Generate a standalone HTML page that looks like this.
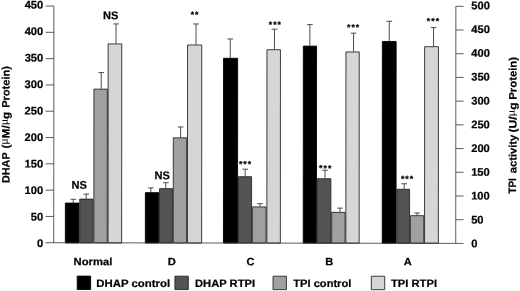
<!DOCTYPE html>
<html><head><meta charset="utf-8"><title>DHAP and TPI activity</title>
<style>html,body{margin:0;padding:0;background:#fff}svg{display:block;will-change:transform;filter:grayscale(1)}text{font-family:"Liberation Sans", sans-serif;font-weight:bold;font-size:10.7px;fill:#000;stroke:#000;stroke-width:0.22px;text-rendering:geometricPrecision}</style>
</head><body>
<svg width="520" height="291" viewBox="0 0 520 291">
<rect width="520" height="291" fill="#fff"/>
<defs><filter id="soft" x="0" y="0" width="520" height="291" filterUnits="userSpaceOnUse"><feGaussianBlur stdDeviation="0.3"/></filter></defs>
<g filter="url(#soft)"><g transform="rotate(0.03 260 145)">
<path d="M73.3 202.8V199.4M70.5 199.4H76.1" stroke="#383838" stroke-width="0.9" fill="none"/>
<rect x="65.4" y="203.2" width="13.6" height="39.9" fill="#000000" stroke="#000" stroke-width="0.9"/>
<path d="M86.2 198.8V194.2M83.4 194.2H89.0" stroke="#383838" stroke-width="0.9" fill="none"/>
<rect x="79.8" y="199.2" width="13.3" height="43.9" fill="#525252" stroke="#282828" stroke-width="0.9"/>
<path d="M101.2 88.8V72.7M98.4 72.7H104.0" stroke="#383838" stroke-width="0.9" fill="none"/>
<rect x="93.9" y="89.2" width="13.4" height="153.9" fill="#a0a0a0" stroke="#282828" stroke-width="0.9"/>
<path d="M116.0 43.6V24.0M113.2 24.0H118.8" stroke="#383838" stroke-width="0.9" fill="none"/>
<rect x="108.1" y="44.0" width="13.6" height="199.1" fill="#d6d6d6" stroke="#282828" stroke-width="0.9"/>
<path d="M150.9 192.3V188.0M148.1 188.0H153.7" stroke="#383838" stroke-width="0.9" fill="none"/>
<rect x="145.4" y="192.7" width="13.4" height="50.4" fill="#000000" stroke="#000" stroke-width="0.9"/>
<path d="M165.8 188.3V182.8M163.0 182.8H168.6" stroke="#383838" stroke-width="0.9" fill="none"/>
<rect x="159.6" y="188.7" width="12.9" height="54.4" fill="#525252" stroke="#282828" stroke-width="0.9"/>
<path d="M180.6 137.5V127.0M177.8 127.0H183.4" stroke="#383838" stroke-width="0.9" fill="none"/>
<rect x="173.3" y="137.9" width="13.4" height="105.2" fill="#a0a0a0" stroke="#282828" stroke-width="0.9"/>
<path d="M196.0 44.6V24.0M193.2 24.0H198.8" stroke="#383838" stroke-width="0.9" fill="none"/>
<rect x="187.5" y="45.0" width="14.2" height="198.1" fill="#d6d6d6" stroke="#282828" stroke-width="0.9"/>
<path d="M230.2 57.9V39.0M227.4 39.0H233.0" stroke="#383838" stroke-width="0.9" fill="none"/>
<rect x="223.5" y="58.3" width="14.1" height="184.8" fill="#000000" stroke="#000" stroke-width="0.9"/>
<path d="M245.2 176.3V169.2M242.4 169.2H248.0" stroke="#383838" stroke-width="0.9" fill="none"/>
<rect x="238.4" y="176.7" width="13.2" height="66.4" fill="#525252" stroke="#282828" stroke-width="0.9"/>
<path d="M260.0 206.5V203.7M257.2 203.7H262.8" stroke="#383838" stroke-width="0.9" fill="none"/>
<rect x="252.4" y="206.9" width="13.7" height="36.2" fill="#a0a0a0" stroke="#282828" stroke-width="0.9"/>
<path d="M274.4 49.3V29.2M271.6 29.2H277.2" stroke="#383838" stroke-width="0.9" fill="none"/>
<rect x="266.9" y="49.7" width="13.5" height="193.4" fill="#d6d6d6" stroke="#282828" stroke-width="0.9"/>
<path d="M309.8 45.7V24.6M307.0 24.6H312.6" stroke="#383838" stroke-width="0.9" fill="none"/>
<rect x="303.3" y="46.1" width="13.2" height="197.0" fill="#000000" stroke="#000" stroke-width="0.9"/>
<path d="M325.0 178.3V170.2M322.2 170.2H327.8" stroke="#383838" stroke-width="0.9" fill="none"/>
<rect x="317.3" y="178.7" width="13.6" height="64.4" fill="#525252" stroke="#282828" stroke-width="0.9"/>
<path d="M340.0 211.9V208.1M337.2 208.1H342.8" stroke="#383838" stroke-width="0.9" fill="none"/>
<rect x="331.7" y="212.3" width="13.4" height="30.8" fill="#a0a0a0" stroke="#282828" stroke-width="0.9"/>
<path d="M353.5 51.5V33.1M350.7 33.1H356.3" stroke="#383838" stroke-width="0.9" fill="none"/>
<rect x="345.9" y="51.9" width="13.3" height="191.2" fill="#d6d6d6" stroke="#282828" stroke-width="0.9"/>
<path d="M389.2 41.0V21.2M386.4 21.2H392.0" stroke="#383838" stroke-width="0.9" fill="none"/>
<rect x="382.3" y="41.4" width="13.8" height="201.7" fill="#000000" stroke="#000" stroke-width="0.9"/>
<path d="M404.2 188.8V183.7M401.4 183.7H407.0" stroke="#383838" stroke-width="0.9" fill="none"/>
<rect x="396.9" y="189.2" width="12.7" height="53.9" fill="#525252" stroke="#282828" stroke-width="0.9"/>
<path d="M417.1 215.2V212.9M414.3 212.9H419.9" stroke="#383838" stroke-width="0.9" fill="none"/>
<rect x="410.4" y="215.6" width="13.4" height="27.5" fill="#a0a0a0" stroke="#282828" stroke-width="0.9"/>
<path d="M433.5 46.2V27.5M430.7 27.5H436.3" stroke="#383838" stroke-width="0.9" fill="none"/>
<rect x="424.6" y="46.6" width="13.8" height="196.5" fill="#d6d6d6" stroke="#282828" stroke-width="0.9"/>
<g stroke="#333" stroke-width="0.8" fill="none">
<path d="M53.8 6.15V242.85"/>
<path d="M455.8 6.20V243.30"/>
<path d="M45.6 242.83L463.5 243.30"/>
<path d="M45.6 6.15H53.8"/>
<path d="M45.6 32.45H53.8"/>
<path d="M45.6 58.75H53.8"/>
<path d="M45.6 85.05H53.8"/>
<path d="M45.6 111.35H53.8"/>
<path d="M45.6 137.65H53.8"/>
<path d="M45.6 163.95H53.8"/>
<path d="M45.6 190.25H53.8"/>
<path d="M45.6 216.55H53.8"/>
<path d="M455.8 6.20H463.5"/>
<path d="M455.8 29.91H463.5"/>
<path d="M455.8 53.62H463.5"/>
<path d="M455.8 77.33H463.5"/>
<path d="M455.8 101.04H463.5"/>
<path d="M455.8 124.75H463.5"/>
<path d="M455.8 148.46H463.5"/>
<path d="M455.8 172.17H463.5"/>
<path d="M455.8 195.88H463.5"/>
<path d="M455.8 219.59H463.5"/>
</g>
<text x="24.6" y="8.7" textLength="18.6" lengthAdjust="spacingAndGlyphs" style="font-size:11px">450</text>
<text x="24.6" y="35.2" textLength="18.6" lengthAdjust="spacingAndGlyphs" style="font-size:11px">400</text>
<text x="24.6" y="61.7" textLength="18.6" lengthAdjust="spacingAndGlyphs" style="font-size:11px">350</text>
<text x="24.6" y="88.2" textLength="18.6" lengthAdjust="spacingAndGlyphs" style="font-size:11px">300</text>
<text x="24.6" y="114.7" textLength="18.6" lengthAdjust="spacingAndGlyphs" style="font-size:11px">250</text>
<text x="24.6" y="141.2" textLength="18.6" lengthAdjust="spacingAndGlyphs" style="font-size:11px">200</text>
<text x="24.6" y="167.7" textLength="18.6" lengthAdjust="spacingAndGlyphs" style="font-size:11px">150</text>
<text x="24.6" y="194.2" textLength="18.6" lengthAdjust="spacingAndGlyphs" style="font-size:11px">100</text>
<text x="30.8" y="220.7" textLength="12.4" lengthAdjust="spacingAndGlyphs" style="font-size:11px">50</text>
<text x="37.0" y="247.2" textLength="6.2" lengthAdjust="spacingAndGlyphs" style="font-size:11px">0</text>
<text x="471.2" y="9.1" textLength="18.6" lengthAdjust="spacingAndGlyphs" style="font-size:11px">500</text>
<text x="471.2" y="32.9" textLength="18.6" lengthAdjust="spacingAndGlyphs" style="font-size:11px">450</text>
<text x="471.2" y="56.7" textLength="18.6" lengthAdjust="spacingAndGlyphs" style="font-size:11px">400</text>
<text x="471.2" y="80.5" textLength="18.6" lengthAdjust="spacingAndGlyphs" style="font-size:11px">350</text>
<text x="471.2" y="104.3" textLength="18.6" lengthAdjust="spacingAndGlyphs" style="font-size:11px">300</text>
<text x="471.2" y="128.1" textLength="18.6" lengthAdjust="spacingAndGlyphs" style="font-size:11px">250</text>
<text x="471.2" y="151.9" textLength="18.6" lengthAdjust="spacingAndGlyphs" style="font-size:11px">200</text>
<text x="471.2" y="175.7" textLength="18.6" lengthAdjust="spacingAndGlyphs" style="font-size:11px">150</text>
<text x="471.2" y="199.5" textLength="18.6" lengthAdjust="spacingAndGlyphs" style="font-size:11px">100</text>
<text x="471.2" y="223.3" textLength="12.4" lengthAdjust="spacingAndGlyphs" style="font-size:11px">50</text>
<text x="471.2" y="247.1" textLength="6.2" lengthAdjust="spacingAndGlyphs" style="font-size:11px">0</text>
<text x="73.7" y="265.3" textLength="38.7" lengthAdjust="spacingAndGlyphs">Normal</text>
<text x="171.9" y="265.3" textLength="8.1" lengthAdjust="spacingAndGlyphs" text-anchor="middle">D</text>
<text x="250.6" y="265.3" textLength="7.9" lengthAdjust="spacingAndGlyphs" text-anchor="middle">C</text>
<text x="329.3" y="265.3" textLength="8.0" lengthAdjust="spacingAndGlyphs" text-anchor="middle">B</text>
<text x="407.9" y="265.3" textLength="8.0" lengthAdjust="spacingAndGlyphs" text-anchor="middle">A</text>
<rect x="77.3" y="276.2" width="13.4" height="13.4" fill="#000000" stroke="#000" stroke-width="0.9"/>
<rect x="175.0" y="276.2" width="13.4" height="13.4" fill="#525252" stroke="#282828" stroke-width="0.9"/>
<rect x="273.1" y="276.2" width="13.4" height="13.4" fill="#a0a0a0" stroke="#282828" stroke-width="0.9"/>
<rect x="371.4" y="276.2" width="13.4" height="13.4" fill="#d6d6d6" stroke="#282828" stroke-width="0.9"/>
<text x="96.4" y="287.0" textLength="73.8" lengthAdjust="spacingAndGlyphs">DHAP control</text>
<text x="195.1" y="287.0" textLength="60.0" lengthAdjust="spacingAndGlyphs">DHAP RTPI</text>
<text x="293.4" y="287.0" textLength="58.0" lengthAdjust="spacingAndGlyphs">TPI control</text>
<text x="391.1" y="287.0" textLength="46.0" lengthAdjust="spacingAndGlyphs">TPI RTPI</text>
<text x="103.0" y="19.3" textLength="15.4" lengthAdjust="spacingAndGlyphs" style="font-size:11.2px">NS</text>
<text x="71.6" y="188.9" textLength="15.4" lengthAdjust="spacingAndGlyphs" style="font-size:11.2px">NS</text>
<text x="154.5" y="179.3" textLength="15.4" lengthAdjust="spacingAndGlyphs" style="font-size:11.2px">NS</text>
<text x="192.3 196.7" y="17.6" text-anchor="middle" style="font-size:8.7px;stroke-width:0.25px">**</text>
<text x="270.3 274.8 279.2" y="27.6" text-anchor="middle" style="font-size:8.7px;stroke-width:0.25px">***</text>
<text x="240.6 245.0 249.4" y="167.0" text-anchor="middle" style="font-size:8.7px;stroke-width:0.25px">***</text>
<text x="348.6 353.1 357.5" y="30.2" text-anchor="middle" style="font-size:8.7px;stroke-width:0.25px">***</text>
<text x="320.7 325.1 329.6" y="171.1" text-anchor="middle" style="font-size:8.7px;stroke-width:0.25px">***</text>
<text x="428.4 432.9 437.3" y="23.8" text-anchor="middle" style="font-size:8.7px;stroke-width:0.25px">***</text>
<text x="402.7 407.1 411.6" y="181.7" text-anchor="middle" style="font-size:8.7px;stroke-width:0.25px">***</text>
<text transform="translate(9.4 183.1) rotate(-90)" textLength="30.6" lengthAdjust="spacingAndGlyphs">DHAP</text>
<text transform="translate(9.4 148.6) rotate(-90)" textLength="36.6" lengthAdjust="spacingAndGlyphs">(<tspan dy="-2" font-family="'Liberation Serif', serif" font-weight="normal" font-size="11.2" stroke-width="0.12">μ</tspan><tspan dy="2">M/</tspan><tspan dy="-2" font-family="'Liberation Serif', serif" font-weight="normal" font-size="11.2" stroke-width="0.12">μ</tspan><tspan dy="2">g</tspan></text>
<text transform="translate(9.4 108.0) rotate(-90)" textLength="41.9" lengthAdjust="spacingAndGlyphs">Protein)</text>
<text transform="translate(516.4 193.3) rotate(-90)" textLength="15.2" lengthAdjust="spacingAndGlyphs">TPI</text>
<text transform="translate(516.4 173.0) rotate(-90)" textLength="38.3" lengthAdjust="spacingAndGlyphs">activity</text>
<text transform="translate(516.4 132.4) rotate(-90)" textLength="30.1" lengthAdjust="spacingAndGlyphs">(U/<tspan dy="-2" font-family="'Liberation Serif', serif" font-weight="normal" font-size="11.2" stroke-width="0.12">μ</tspan><tspan dy="2">g</tspan></text>
<text transform="translate(516.4 99.6) rotate(-90)" textLength="42.8" lengthAdjust="spacingAndGlyphs">Protein)</text>
</g></g></svg></body></html>
